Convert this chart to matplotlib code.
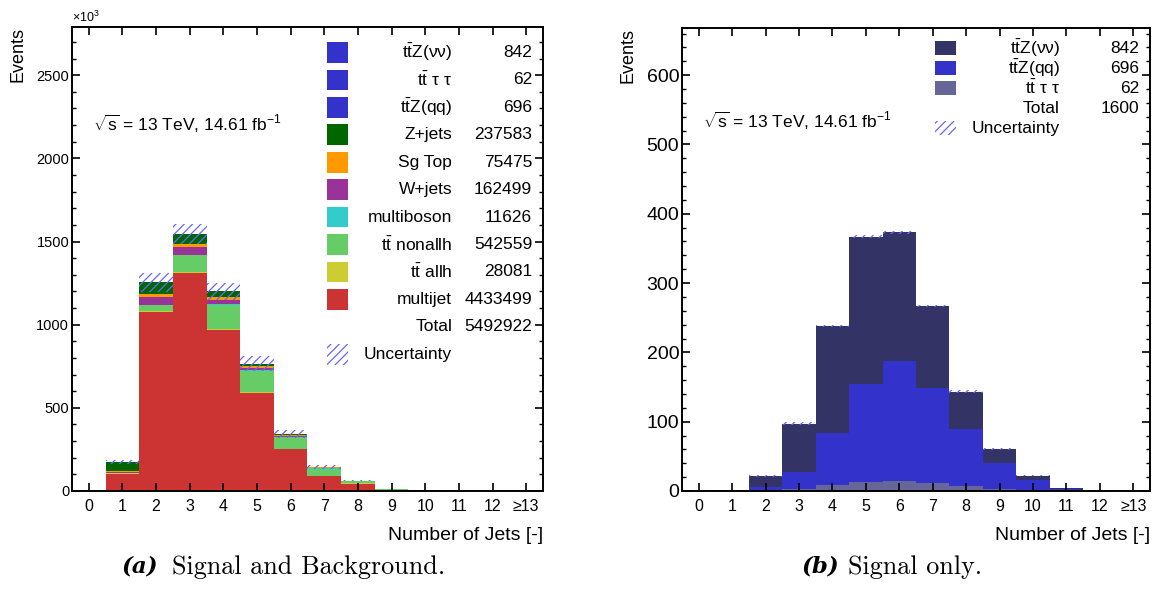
import numpy as np
import matplotlib
matplotlib.use("Agg")
import matplotlib.pyplot as plt
from matplotlib.patches import Rectangle
from matplotlib.ticker import MultipleLocator

plt.rcParams['font.family'] = ['Liberation Sans', 'DejaVu Sans']
plt.rcParams['mathtext.fontset'] = 'custom'
plt.rcParams['mathtext.rm'] = 'Liberation Sans'
plt.rcParams['mathtext.it'] = 'Liberation Sans'
plt.rcParams['mathtext.bf'] = 'Liberation Sans:bold'
plt.rcParams['hatch.linewidth'] = 0.9

# ---- data ----
njets = np.arange(14)
xticklabels = ['0', '1', '2', '3', '4', '5', '6', '7', '8', '9', '10', '11', '12', '≥13']

# background stack (x10^3 events), bottom to top
multijet   = [1.5, 105, 1075, 1310, 970, 590, 250, 92, 45, 8, 3, 0.5, 0.2, 0.1]
tt_allh    = [0, 1, 5, 8, 6, 4, 2, 1, 0.5, 0.3, 0.2, 0, 0, 0]
tt_nonallh = [0, 3, 36, 100, 145, 130, 70, 42, 14, 4, 1.5, 0.3, 0, 0]
multiboson = [0, 0.5, 3, 3.5, 2, 1.5, 0.7, 0.3, 0.1, 0, 0, 0, 0, 0]
wjets      = [0, 7, 48, 46, 27, 17, 10, 4, 1.5, 0.5, 0, 0, 0, 0]
sgtop      = [0, 3, 17, 20, 16, 9, 5, 2.5, 1, 0.5, 0.2, 0, 0, 0]
zjets      = [0.2, 55, 70, 58, 34, 14, 6, 2, 0.8, 0.3, 0.1, 0, 0, 0]
unc_left   = [0.5, 12, 55, 62, 52, 44, 25, 10, 5, 0, 0, 0, 0, 0]

# signal (events)
ttt_tautau = [0, 0.2, 1, 2.5, 8, 13, 15, 12, 7, 2.5, 0.6, 0.2, 0, 0]
ttz_qq     = [0, 0.6, 4.5, 25.5, 75, 142, 172, 137, 82, 38.5, 15.4, 2.8, 0.3, 0]
ttz_nunu   = [0, 0.7, 16.5, 69, 155, 212, 186, 118, 54, 20, 6, 1.5, 0.2, 0]
unc_right  = [0, 0.5, 1.5, 2, 2, 2, 2, 2, 2, 1.5, 1, 0.5, 0.2, 0]

left_labels = [r'$t\bar{t}Z(\nu\nu)$', r'$t\bar{t}\ \tau\ \tau$', r'$t\bar{t}Z(qq)$', 'Z+jets',
               'Sg Top', 'W+jets', 'multiboson', r'$t\bar{t}$ nonallh', r'$t\bar{t}$ allh', 'multijet']
left_yields = ['842', '62', '696', '237583', '75475', '162499', '11626', '542559', '28081', '4433499']
left_total = '5492922'
left_colors = ['#3333cc', '#3333cc', '#3333cc', '#006600', '#ff9900', '#993399',
               '#33cccc', '#66cc66', '#cccc33', '#cc3333']

right_labels = [r'$t\bar{t}Z(\nu\nu)$', r'$t\bar{t}Z(qq)$', r'$t\bar{t}\ \tau\ \tau$']
right_yields = ['842', '696', '62']
right_total = '1600'
right_colors = ['#333366', '#3333cc', '#666699']

HATCH_COLOR = '#6666ff'


def style_axes(ax, ylim, major, minor, ysize):
    ax.set_xlim(-0.5, 13.5)
    ax.set_ylim(0, ylim)
    ax.set_xticks(njets)
    ax.set_xticklabels(xticklabels, fontsize=11.5)
    ax.yaxis.set_major_locator(MultipleLocator(major))
    ax.yaxis.set_minor_locator(MultipleLocator(minor))
    ax.tick_params(axis='both', which='major', direction='in', length=5.5, width=1.2,
                   top=True, right=True)
    ax.tick_params(axis='y', which='minor', direction='in', length=3, width=1.0, right=True)
    ax.tick_params(axis='x', which='minor', bottom=False, top=False)
    ax.tick_params(axis='y', labelsize=ysize, pad=2)
    ax.tick_params(axis='x', pad=6)
    for s in ax.spines.values():
        s.set_linewidth(1.4)
    ax.text(-0.115, 1.0, 'Events', transform=ax.transAxes, rotation=90,
            ha='center', va='top', fontsize=13)
    ax.text(1.0, -0.097, 'Number of Jets [-]', transform=ax.transAxes,
            ha='right', va='center', fontsize=14)


def legend(ax, labels, yields, colors, total, y0, dy, ph, fs):
    rows = len(labels)
    for i in range(rows + 2):
        y = y0 - i * dy
        if i < rows:
            ax.add_patch(Rectangle((0.541, y - ph / 2), 0.045, ph, transform=ax.transAxes,
                                   facecolor=colors[i], edgecolor='none'))
            ax.text(0.807, y, labels[i], transform=ax.transAxes, ha='right', va='center', fontsize=fs)
            ax.text(0.977, y, yields[i], transform=ax.transAxes, ha='right', va='center', fontsize=fs)
        elif i == rows:
            ax.text(0.807, y, 'Total', transform=ax.transAxes, ha='right', va='center', fontsize=fs)
            ax.text(0.977, y, total, transform=ax.transAxes, ha='right', va='center', fontsize=fs)
        else:
            ax.add_patch(Rectangle((0.541, y - ph / 2), 0.045, ph, transform=ax.transAxes,
                                   facecolor='none', edgecolor=HATCH_COLOR, hatch='////', lw=0))
            ax.text(0.807, y, 'Uncertainty', transform=ax.transAxes, ha='right', va='center', fontsize=fs)


fig = plt.figure(figsize=(11.56, 5.96), dpi=100)
axl = fig.add_axes([0.0623, 0.1762, 0.4074, 0.7785])
axr = fig.add_axes([0.590, 0.1762, 0.4048, 0.7768])

# ---- left: signal and background ----
stack = [multijet, tt_allh, tt_nonallh, multiboson, wjets, sgtop, zjets,
         list(np.array(ttz_qq) / 1000), list(np.array(ttt_tautau) / 1000), list(np.array(ttz_nunu) / 1000)]
stack_colors = left_colors[::-1]
bottom = np.zeros(len(njets))
for vals, col in zip(stack, stack_colors):
    axl.bar(njets, vals, width=1.0, bottom=bottom, color=col, linewidth=0)
    bottom += np.array(vals)
unc = np.array(unc_left)
axl.bar(njets, 2 * unc, width=1.0, bottom=bottom - unc, fill=False, hatch='////',
        edgecolor=HATCH_COLOR, linewidth=0)
style_axes(axl, 2790, 500, 100, 10.5)
axl.text(0.0, 1.005, r'$\times10^{3}$', transform=axl.transAxes, ha='left', va='bottom', fontsize=9)
axl.text(0.045, 0.79, r'$\sqrt{s}$ = 13 TeV, 14.61 fb$^{-1}$', transform=axl.transAxes,
         ha='left', va='center', fontsize=12.5)
legend(axl, left_labels, left_yields, left_colors, left_total, 0.945, 0.0591, 0.0446, 12.5)

# ---- right: signal only ----
bottom = np.zeros(len(njets))
for vals, col in zip([ttt_tautau, ttz_qq, ttz_nunu], right_colors[::-1]):
    axr.bar(njets, vals, width=1.0, bottom=bottom, color=col, linewidth=0)
    bottom += np.array(vals)
unc = np.array(unc_right)
axr.bar(njets, 2 * unc, width=1.0, bottom=bottom - unc, fill=False, hatch='////',
        edgecolor=HATCH_COLOR, linewidth=0)
style_axes(axr, 668, 100, 20, 14)
axr.text(0.045, 0.80, r'$\sqrt{s}$ = 13 TeV, 14.61 fb$^{-1}$', transform=axr.transAxes,
         ha='left', va='center', fontsize=12.5)
legend(axr, right_labels, right_yields, right_colors, right_total, 0.956, 0.043, 0.030, 12.5)

# ---- captions ----
for xt, xs, tag, txt in [(0.1055, 0.1488, '(a)', 'Signal and Background.'),
                         (0.6938, 0.7336, '(b)', 'Signal only.')]:
    fig.text(xt, 0.049, tag, ha='left', va='center', fontsize=16.5,
             family='DejaVu Serif', weight='bold', style='italic')
    fig.text(xs, 0.049, txt, ha='left', va='center', fontsize=18.8, family='cmr10')

fig.savefig('out.png', dpi=100)
